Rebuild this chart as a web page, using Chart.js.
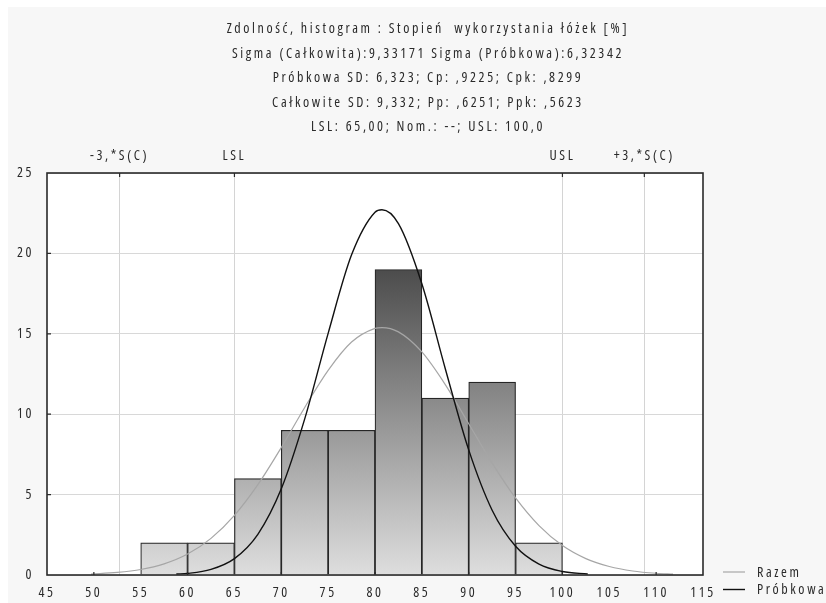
<!DOCTYPE html>
<html>
<head>
<meta charset="utf-8">
<script src="https://cdn.jsdelivr.net/npm/chart.js@4.4.1/dist/chart.umd.min.js"></script>
<style>
html,body{margin:0;padding:0;background:#ffffff;}
#wrap{width:826px;height:603px;position:relative;}
</style>
</head>
<body>
<div id="wrap"><canvas id="c" width="826" height="603"></canvas></div>
<script>
// ---- data ----
const titleLines = [
  'Zdolność, histogram : Stopień  wykorzystania łóżek [%]',
  'Sigma (Całkowita):9,33171 Sigma (Próbkowa):6,32342',
  'Próbkowa SD: 6,323; Cp: ,9225; Cpk: ,8299',
  'Całkowite SD: 9,332; Pp: ,6251; Ppk: ,5623',
  'LSL: 65,00; Nom.: --; USL: 100,0'
];
const binCenters = [57.5, 62.5, 67.5, 72.5, 77.5, 82.5, 87.5, 92.5, 97.5];
const counts     = [2, 2, 6, 9, 9, 19, 11, 12, 2];

const razemX = [49.7, 52.5, 55, 57.5, 60, 62.5, 65, 67.5, 70, 72.5, 75, 77.5, 80, 80.74, 82.5, 85, 87.5, 90, 92.5, 95, 97.5, 100, 102.5, 105, 107.5, 110, 111.8];
const razemY = [0.06, 0.16, 0.34, 0.69, 1.30, 2.28, 3.71, 5.62, 7.93, 10.42, 12.73, 14.49, 15.34, 15.39, 15.12, 13.87, 11.84, 9.41, 6.96, 4.79, 3.07, 1.83, 1.02, 0.53, 0.25, 0.11, 0.06];

const probX = [58.8, 60, 62.5, 65, 67.5, 70, 72.5, 75, 77.5, 80, 80.74, 82.5, 85, 87.5, 90, 92.5, 95, 97.5, 100, 102.7];
const probY = [0.06, 0.10, 0.35, 1.02, 2.53, 5.36, 9.71, 15.03, 19.91, 22.56, 22.71, 21.85, 18.11, 12.83, 7.78, 4.03, 1.79, 0.68, 0.22, 0.06];

const specValues = [52.75, 65, 100, 108.74];
const specLabels = ['-3,*S(C)', 'LSL', 'USL', '+3,*S(C)'];

const seriesLabels = ['Razem', 'Próbkowa'];
const xMin = 45, xMax = 115, xStep = 5;
const yMin = 0, yMax = 25, yStep = 5;
const minorTickValues = [50, 60, 70, 80, 90, 100, 110];

// ---- styling ----
const FAMILY = "'Open Sans', 'Roboto', sans-serif";
const STRETCH = 'condensed';
const FS = 14;
const LS = '2.6px';
const TXT = '#2a2a2a';
const chartFont = { family: FAMILY, size: FS, weight: STRETCH };

const spacing = {
  id: 'spacing',
  beforeInit(c) { c.ctx.letterSpacing = LS; },
  beforeLayout(c) { c.ctx.letterSpacing = LS; },
  afterLayout(c) {
    if (c.titleBlock) { c.titleBlock.left = 30; c.titleBlock.right = c.width; }
  },
  beforeDraw(c) { c.ctx.letterSpacing = LS; }
};

const background = {
  id: 'background',
  beforeDraw(c) {
    const ctx = c.ctx, a = c.chartArea;
    ctx.save();
    ctx.fillStyle = '#ffffff';
    ctx.fillRect(0, 0, c.width, c.height);
    ctx.fillStyle = '#f7f7f7';
    ctx.fillRect(8, 7, c.width - 8, c.height - 7);
    ctx.fillStyle = '#ffffff';
    ctx.fillRect(a.left, a.top, a.right - a.left, a.bottom - a.top);
    ctx.restore();
  }
};

const frame = {
  id: 'frame',
  afterDraw(c) {
    const ctx = c.ctx, a = c.chartArea;
    const xs = c.scales.x, ys = c.scales.y;
    ctx.save();
    ctx.strokeStyle = '#2a2a2a';
    ctx.lineWidth = 1.6;
    ctx.strokeRect(a.left, a.top, a.right - a.left, a.bottom - a.top);
    ctx.lineWidth = 1.2;
    ctx.beginPath();
    for (let v = yMin + yStep; v < yMax; v += yStep) {
      const py = ys.getPixelForValue(v);
      ctx.moveTo(a.left, py); ctx.lineTo(a.left + 4, py);
    }
    minorTickValues.forEach(v => {
      const px = xs.getPixelForValue(v);
      ctx.moveTo(px, a.bottom); ctx.lineTo(px, a.bottom - 3);
    });
    specValues.forEach(v => {
      const px = xs.getPixelForValue(v);
      ctx.moveTo(px, a.top); ctx.lineTo(px, a.top + 4);
    });
    ctx.stroke();

    // legend
    ctx.font = STRETCH + ' ' + FS + 'px ' + FAMILY;
    ctx.letterSpacing = LS;
    ctx.textBaseline = 'middle';
    ctx.textAlign = 'left';
    const lineDs = c.data.datasets.filter(d => d.type === 'line');
    lineDs.forEach((d, i) => {
      const y = 572 + i * 17.5;
      ctx.strokeStyle = d.borderColor;
      ctx.lineWidth = d.borderWidth;
      ctx.beginPath();
      ctx.moveTo(723, y); ctx.lineTo(745, y);
      ctx.stroke();
      ctx.fillStyle = TXT;
      ctx.fillText(d.label, 757, y + 1);
    });
    ctx.restore();
  }
};

function barGradient(context) {
  const chart = context.chart;
  const a = chart.chartArea;
  if (!a) return '#aaaaaa';
  const g = chart.ctx.createLinearGradient(0, a.top, 0, a.bottom);
  g.addColorStop(0, '#1e1e1e');
  g.addColorStop(1, '#dedede');
  return g;
}

new Chart(document.getElementById('c'), {
  data: {
    datasets: [
      {
        type: 'line',
        label: seriesLabels[0],
        data: razemX.map((x, i) => ({x: x, y: razemY[i]})),
        borderColor: '#a6a6a6',
        borderWidth: 1.2,
        pointRadius: 0,
        cubicInterpolationMode: 'monotone',
        fill: false,
        order: 1
      },
      {
        type: 'line',
        label: seriesLabels[1],
        data: probX.map((x, i) => ({x: x, y: probY[i]})),
        borderColor: '#111111',
        borderWidth: 1.4,
        pointRadius: 0,
        cubicInterpolationMode: 'monotone',
        fill: false,
        order: 0
      },
      {
        type: 'bar',
        label: 'Histogram',
        data: binCenters.map((x, i) => ({x: x, y: counts[i]})),
        backgroundColor: barGradient,
        borderColor: '#262626',
        borderWidth: 1.2,
        barPercentage: 1.0,
        categoryPercentage: 1.0,
        order: 2
      }
    ]
  },
  options: {
    responsive: false,
    animation: false,
    devicePixelRatio: 1,
    layout: { padding: { left: 0, right: 0, top: 0, bottom: 0 } },
    plugins: {
      legend: { display: false },
      tooltip: { enabled: false },
      title: {
        display: true,
        text: titleLines,
        color: TXT,
        font: { family: FAMILY, size: FS, weight: STRETCH, lineHeight: 1.75 },
        padding: { top: 17, bottom: 0 }
      }
    },
    scales: {
      x: {
        type: 'linear',
        position: 'bottom',
        offset: false,
        min: xMin, max: xMax,
        afterBuildTicks(s) {
          const t = [];
          for (let v = xMin; v <= xMax; v += xStep) t.push({value: v});
          s.ticks = t;
        },
        grid: { display: false, drawTicks: false, offset: false },
        border: { display: false },
        ticks: { color: TXT, font: chartFont, padding: 10, autoSkip: false, maxRotation: 0 },
        afterFit(s) { s.height = 28; }
      },
      x2: {
        type: 'linear',
        position: 'top',
        offset: false,
        min: xMin, max: xMax,
        afterBuildTicks(s) { s.ticks = specValues.map(v => ({value: v})); },
        grid: { display: true, color: '#d4d4d4', lineWidth: 1, drawTicks: false, offset: false },
        border: { display: false },
        ticks: {
          color: TXT, font: chartFont, padding: 9, autoSkip: false, maxRotation: 0,
          callback(value, index) { return specLabels[index]; }
        },
        afterFit(s) { s.height = 33.5; }
      },
      y: {
        type: 'linear',
        position: 'left',
        min: yMin, max: yMax,
        ticks: { stepSize: yStep, color: TXT, font: chartFont, padding: 13 },
        grid: { color: '#d8d8d8', lineWidth: 1, drawTicks: false },
        border: { display: false },
        afterFit(s) { s.width = 47; }
      },
      yRight: {
        type: 'linear',
        position: 'right',
        display: true,
        grid: { display: false, drawTicks: false },
        border: { display: false },
        ticks: { display: false },
        afterFit(s) { s.width = 123; }
      }
    }
  },
  plugins: [spacing, background, frame]
});
</script>
</body>
</html>
